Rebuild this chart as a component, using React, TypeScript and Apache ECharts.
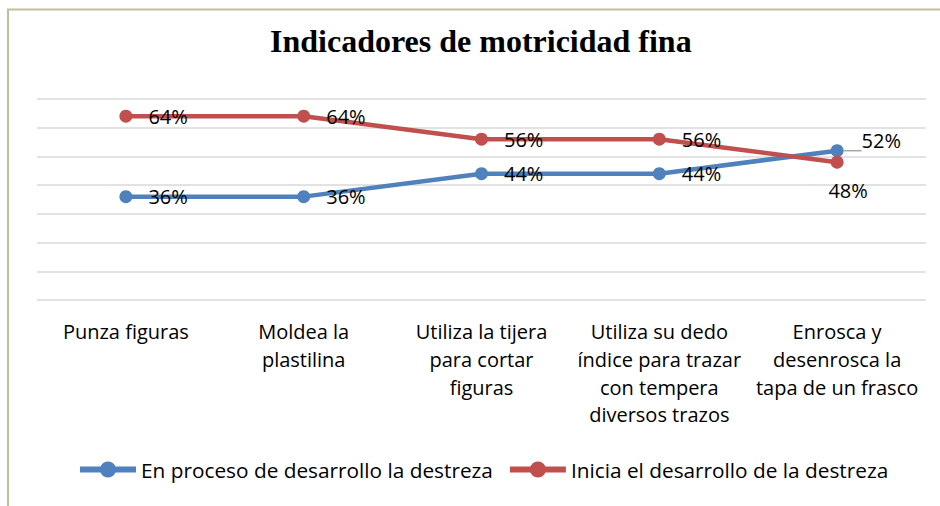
import React, { useEffect, useRef } from "react";
import * as echarts from "echarts";

const titleText = "Indicadores de motricidad fina";
const categories = [
  "Punza figuras",
  "Moldea la plastilina",
  "Utiliza la tijera para cortar figuras",
  "Utiliza su dedo índice para trazar con tempera diversos trazos",
  "Enrosca y desenrosca la tapa de un frasco",
];
const categoryLines = [
  ["Punza figuras"],
  ["Moldea la", "plastilina"],
  ["Utiliza la tijera", "para cortar", "figuras"],
  ["Utiliza su dedo", "índice para trazar", "con tempera", "diversos trazos"],
  ["Enrosca y", "desenrosca la", "tapa de un frasco"],
];
const seriesNames = [
  "En proceso de desarrollo la destreza",
  "Inicia el desarrollo de la destreza",
];
const enProceso = [36, 36, 44, 44, 52];
const inicia = [64, 64, 56, 56, 48];
const yTicks = [0, 10, 20, 30, 40, 50, 60, 70];

const FONT = "'Open Sans', 'Noto Sans', sans-serif";

export default function App() {
  const ref = useRef<HTMLDivElement>(null);
  useEffect(() => {
    if (!ref.current) return;
    const chart = echarts.init(ref.current, null, { renderer: "svg" });
    const last = categories.length - 1;
    const labelBase = {
      show: true,
      position: "right",
      distance: 16,
      offset: [0, 0],
      formatter: "{c}%",
      color: "#000",
      fontFamily: FONT,
      fontSize: 20,
    };
    chart.setOption({
      animation: false,
      backgroundColor: "#fff",
      title: {
        text: titleText,
        left: 265,
        top: 20,
        textStyle: {
          fontFamily: "'Liberation Serif', 'Times New Roman', serif",
          fontWeight: "bold",
          fontSize: 32,
          color: "#000",
        },
      },
      graphic: [
        {
          type: "rect",
          silent: true,
          shape: { x: 8, y: 9.5, width: 1000, height: 1000 },
          style: { fill: "none", stroke: "#c4bd97", lineWidth: 2 },
        },
      ],
      legend: {
        left: 72,
        top: 454,
        itemWidth: 56,
        itemHeight: 20,
        itemGap: 14,
        lineStyle: { width: 6 },
        textStyle: { fontFamily: FONT, fontSize: 20.8, color: "#000" },
        data: seriesNames,
      },
      grid: { left: 37, right: 14, top: 99, bottom: 206, containLabel: false },
      xAxis: {
        type: "category",
        data: categories,
        boundaryGap: true,
        axisLine: { show: false },
        axisTick: { show: false },
        axisLabel: {
          margin: 18,
          interval: 0,
          color: "#000",
          fontFamily: FONT,
          fontSize: 20,
          lineHeight: 27.7,
          formatter: (_v: string, i: number) => categoryLines[i].join("\n"),
        },
      },
      yAxis: {
        type: "value",
        min: yTicks[0],
        max: yTicks[yTicks.length - 1],
        interval: 10,
        axisLabel: { show: false },
        axisLine: { show: false },
        axisTick: { show: false },
        splitLine: { show: true, lineStyle: { color: "#d9d9d9", width: 1.5 } },
      },
      series: [
        {
          name: seriesNames[0],
          type: "line",
          data: enProceso.map((v, i) =>
            i === last
              ? {
                  value: v,
                  label: { ...labelBase, offset: [2, -10] },
                  labelLine: { show: true, lineStyle: { color: "#a6a6a6", width: 1.5 } },
                }
              : v
          ),
          symbol: "circle",
          symbolSize: 13,
          z: 3,
          itemStyle: { color: "#4f81bd" },
          lineStyle: { color: "#4f81bd", width: 4.5 },
          label: labelBase,
          labelLine: { show: false },
        },
        {
          name: seriesNames[1],
          type: "line",
          data: inicia.map((v, i) =>
            i === last
              ? {
                  value: v,
                  label: { ...labelBase, position: "bottom", distance: 12, offset: [11, 0] },
                }
              : v
          ),
          symbol: "circle",
          symbolSize: 13,
          z: 4,
          itemStyle: { color: "#c0504d" },
          lineStyle: { color: "#c0504d", width: 4.5 },
          label: labelBase,
        },
      ],
    });
    return () => chart.dispose();
  }, []);
  return (
    <div
      ref={ref}
      style={{ position: "fixed", left: 0, top: 0, width: 940, height: 506 }}
    />
  );
}
